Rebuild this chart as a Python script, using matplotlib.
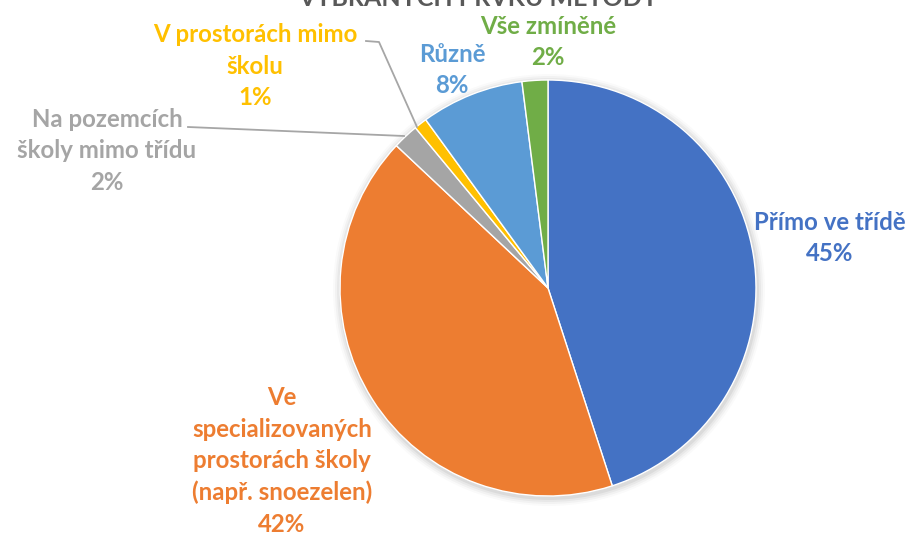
import matplotlib
matplotlib.use("Agg")
import matplotlib.pyplot as plt

categories = ["Přímo ve třídě", "Ve\nspecializovaných\nprostorách školy\n(např. snoezelen)",
              "Na pozemcích\nškoly mimo třídu", "V prostorách mimo\nškolu", "Různě", "Vše zmíněné"]
values = [45, 42, 2, 1, 8, 2]
colors = ["#4472C4", "#ED7D31", "#A5A5A5", "#FFC000", "#5B9BD5", "#70AD47"]
title = "VYBRANÝCH PRVKŮ METODY"

W, H = 915, 536
fig = plt.figure(figsize=(W / 100, H / 100), dpi=100)
ax = fig.add_axes([0, 0, 1, 1])

def Y(y):
    return H - y

cx, cy, r = 548, Y(288), 208

# soft shadow
for i, a in enumerate([0.05, 0.04, 0.03, 0.02]):
    ax.add_patch(plt.Circle((cx + 1, cy - 2), r + 2 + i * 2, color="black", alpha=a, lw=0, zorder=0))

ax.pie(values, colors=colors, startangle=90, counterclock=False, radius=r, center=(cx, cy),
       wedgeprops=dict(edgecolor="white", linewidth=1.0), frame=True)
ax.set_xlim(0, W)
ax.set_ylim(0, H)
ax.axis("off")

total = sum(values)
fp = dict(fontfamily="Lato", fontweight="bold", fontsize=17.3, ha="center", va="center",
          linespacing=1.45)
label_pos = [(830, 238), (282, 461), (107, 151), (255, 66), (452, 70), (548, 42)]
for cat, v, c, (x, y) in zip(categories, values, colors, label_pos):
    ax.text(x, Y(y), f"{cat}\n{round(100 * v / total)}%", color=c, **fp)

# leader lines
lc = "#A6A6A6"
ax.plot([188, 404], [Y(127), Y(136)], color=lc, lw=1.3)
ax.plot([366, 379, 417], [Y(41), Y(42), Y(127)], color=lc, lw=1.3)

ax.text(478, Y(6), title, color="#595959", fontfamily="Lato", fontweight="bold",
        fontsize=18, ha="center", va="baseline")

fig.savefig("out.png", dpi=100)
